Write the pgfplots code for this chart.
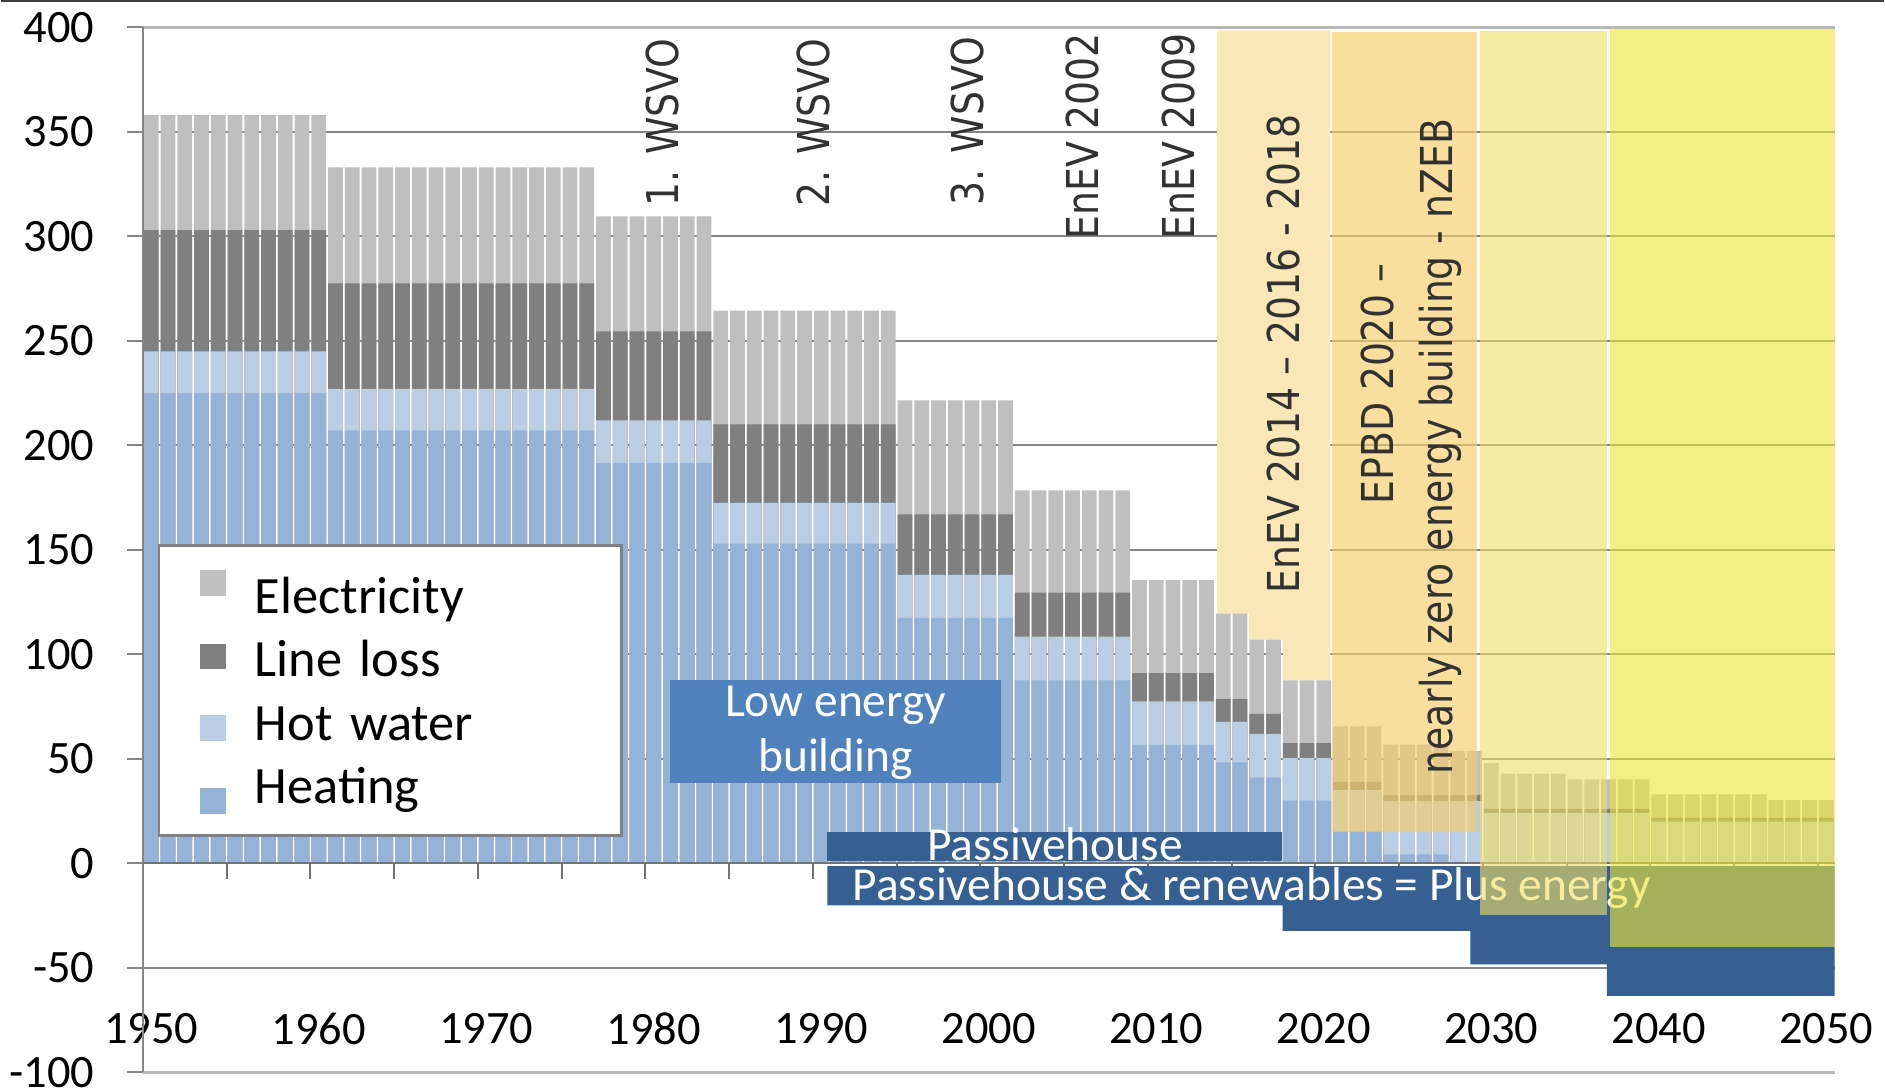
\documentclass[border=0pt]{standalone}
\usepackage{pgfplots}
\pgfplotsset{compat=1.18}
\usepackage{pgfplotstable}
\usepackage{fontspec}
\setmainfont{Carlito}
\newfontfamily\rotfont[FakeStretch=0.86]{DejaVu Sans}
\definecolor{elc}{RGB}{191,191,191}
\definecolor{llc}{RGB}{128,128,128}
\definecolor{hwc}{RGB}{185,205,229}
\definecolor{htc}{RGB}{149,179,215}
\definecolor{zA}{RGB}{249,231,183}
\definecolor{zB}{RGB}{244,206,108}
\definecolor{zC}{RGB}{242,222,100}
\definecolor{zD}{RGB}{237,227,57}
\definecolor{dkb}{RGB}{54,96,146}
\definecolor{lowb}{RGB}{79,129,189}
\definecolor{gridc}{RGB}{134,134,134}
\definecolor{rottxt}{RGB}{50,50,50}

% cumulative tops: tot = electricity top, ll = line loss top, hw = hot water top, heat = heating top
\pgfplotstableread{
year tot ll hw heat
1950 358 303 245 225
1951 358 303 245 225
1952 358 303 245 225
1953 358 303 245 225
1954 358 303 245 225
1955 358 303 245 225
1956 358 303 245 225
1957 358 303 245 225
1958 358 303 245 225
1959 358 303 245 225
1960 358 303 245 225
1961 333 277.5 227 207
1962 333 277.5 227 207
1963 333 277.5 227 207
1964 333 277.5 227 207
1965 333 277.5 227 207
1966 333 277.5 227 207
1967 333 277.5 227 207
1968 333 277.5 227 207
1969 333 277.5 227 207
1970 333 277.5 227 207
1971 333 277.5 227 207
1972 333 277.5 227 207
1973 333 277.5 227 207
1974 333 277.5 227 207
1975 333 277.5 227 207
1976 333 277.5 227 207
1977 309.5 254.5 212 191.5
1978 309.5 254.5 212 191.5
1979 309.5 254.5 212 191.5
1980 309.5 254.5 212 191.5
1981 309.5 254.5 212 191.5
1982 309.5 254.5 212 191.5
1983 309.5 254.5 212 191.5
1984 264.5 210 172.5 153
1985 264.5 210 172.5 153
1986 264.5 210 172.5 153
1987 264.5 210 172.5 153
1988 264.5 210 172.5 153
1989 264.5 210 172.5 153
1990 264.5 210 172.5 153
1991 264.5 210 172.5 153
1992 264.5 210 172.5 153
1993 264.5 210 172.5 153
1994 264.5 210 172.5 153
1995 221.5 167 138 117.5
1996 221.5 167 138 117.5
1997 221.5 167 138 117.5
1998 221.5 167 138 117.5
1999 221.5 167 138 117.5
2000 221.5 167 138 117.5
2001 221.5 167 138 117.5
2002 178.5 129.5 108.5 87.5
2003 178.5 129.5 108.5 87.5
2004 178.5 129.5 108.5 87.5
2005 178.5 129.5 108.5 87.5
2006 178.5 129.5 108.5 87.5
2007 178.5 129.5 108.5 87.5
2008 178.5 129.5 108.5 87.5
2009 135.5 91 77.5 56.7
2010 135.5 91 77.5 56.7
2011 135.5 91 77.5 56.7
2012 135.5 91 77.5 56.7
2013 135.5 91 77.5 56.7
2014 119.5 78.7 67.7 48.3
2015 119.5 78.7 67.7 48.3
2016 107 71.5 62 41
2017 107 71.5 62 41
2018 87.5 57.5 50.3 30
2019 87.5 57.5 50.3 30
2020 87.5 57.5 50.3 30
2021 65.5 39 35 15.4
2022 65.5 39 35 15.4
2023 65.5 39 35 15.4
2024 56.8 32.8 29.8 4.3
2025 56.8 32.8 29.8 4.3
2026 56.8 32.8 29.8 4.3
2027 56.8 32.8 29.8 4.3
2028 53.7 32.8 29.8 0.5
2029 53.7 32.8 29.8 0.5
2030 48 26 24 0
2031 42.9 26 24 0
2032 42.9 26 24 0
2033 42.9 26 24 0
2034 42.9 26 24 0
2035 40.2 26 24 0
2036 40.2 26 24 0
2037 40.2 26 24 0
2038 40.2 26 24 0
2039 40.2 26 24 0
2040 33 21.8 20 0
2041 33 21.8 20 0
2042 33 21.8 20 0
2043 33 21.8 20 0
2044 33 21.8 20 0
2045 33 21.8 20 0
2046 33 21.8 20 0
2047 30.3 21.8 20 0
2048 30.3 21.8 20 0
2049 30.3 21.8 20 0
2050 30.3 21.8 20 0
}\bardata

% tick marks of the horizontal axis (drawn downwards from the zero line)
\pgfplotstableread{
x y
1954.5 -7.6
1959.5 -7.6
1964.5 -7.6
1969.5 -7.6
1974.5 -7.6
1979.5 -7.6
1984.5 -7.6
1989.5 -7.6
1994.5 -7.6
1999.5 -7.6
2004.5 -7.6
2009.5 -7.6
2014.5 -7.6
2019.5 -7.6
2024.5 -7.6
2029.5 -7.6
2034.5 -7.6
2039.5 -7.6
2044.5 -7.6
2049.5 -7.6
}\xtickdata

\begin{document}
\begin{tikzpicture}
\begin{axis}[
  name=ax, at={(0,0)}, anchor=south west,
  width=338.8pt, height=209.3pt, scale only axis,
  xmin=1949.5, xmax=2050.5, ymin=-100, ymax=400,
  clip=false,
  axis line style={draw=none},
  tick style={draw=none},
  ytick={-100,-50,0,50,100,150,200,250,300,350,400},
  yticklabels={-100,-50,0,50,100,150,200,250,300,350,400},
  xtick={1950,1960,1970,1980,1990,2000,2010,2020,2030,2040,2050},
  xticklabels={1950,1960,1970,1980,1990,2000,2010,2020,2030,2040,2050},
  ymajorgrids, grid style={gridc, line width=0.35pt},
  tick label style={font=\fontsize{9.3}{10}\selectfont, text=black},
  yticklabel style={anchor=east, inner sep=0pt, xshift=-9.5pt},
  xticklabel style={anchor=center, inner sep=0pt, yshift=8.74pt},
  legend style={at={(axis cs:1950.38,152.6)}, anchor=north west,
    draw=gray, line width=0.5pt, fill=white,
    inner xsep=8.3pt, inner ysep=3.65pt, row sep=0pt, column sep=5.7pt,
    font=\fontsize{10.5}{12}\selectfont,
    nodes={inner sep=0pt, text width=65.1pt, minimum height=12.7pt,
      text height=9.4pt, text depth=2.2pt, align=left}},
]
% outer light lines
\draw[black!28, line width=0.7pt] (axis cs:1949.5,400) -- (axis cs:2050.5,400);
\draw[black!28, line width=0.7pt] (axis cs:1949.5,-100) -- (axis cs:2050.5,-100);

% zone A (EnEV 2014) above the bars
\addplot[forget plot, fill=zA, draw=none] coordinates {
  (2013.64,398.4) (2020.4,398.4) (2020.4,87.5) (2017.56,87.5)
  (2017.56,107) (2015.53,107) (2015.53,119.5) (2013.64,119.5)} -- cycle;

% bars (drawn back to front as cumulative tops)
\addplot[ybar, bar width=0.88, bar shift=0pt, fill=elc, draw=none,
  legend image code/.code={\fill[elc] (0pt,0pt) rectangle (5.2pt,5.2pt);}]
  table[x=year, y=tot] {\bardata};
\addlegendentry{Electricity}
\addplot[ybar, bar width=0.88, bar shift=0pt, fill=llc, draw=none,
  legend image code/.code={\fill[llc] (0pt,-2.1pt) rectangle (5.2pt,3.1pt);}]
  table[x=year, y=ll] {\bardata};
\addlegendentry{Line loss}
\addplot[ybar, bar width=0.88, bar shift=0pt, fill=hwc, draw=none,
  legend image code/.code={\fill[hwc] (0pt,-3.8pt) rectangle (5.2pt,1.4pt);}]
  table[x=year, y=hw] {\bardata};
\addlegendentry{Hot water}
\addplot[ybar, bar width=0.88, bar shift=0pt, fill=htc, draw=none,
  legend image code/.code={\fill[htc] (0pt,-5.6pt) rectangle (5.2pt,-0.4pt);}]
  table[x=year, y=heat] {\bardata};
\addlegendentry{Heating}

% axes lines and ticks
\draw[gridc, line width=0.35pt] (axis cs:1949.5,-100) -- (axis cs:1949.5,400);
\draw[gridc, line width=0.35pt] (axis cs:1949.5,-100) -- ++(-3.1pt,0pt);
\draw[gridc, line width=0.35pt] (axis cs:1949.5,-50) -- ++(-3.1pt,0pt);
\draw[gridc, line width=0.35pt] (axis cs:1949.5,0) -- ++(-3.1pt,0pt);
\draw[gridc, line width=0.35pt] (axis cs:1949.5,50) -- ++(-3.1pt,0pt);
\draw[gridc, line width=0.35pt] (axis cs:1949.5,100) -- ++(-3.1pt,0pt);
\draw[gridc, line width=0.35pt] (axis cs:1949.5,150) -- ++(-3.1pt,0pt);
\draw[gridc, line width=0.35pt] (axis cs:1949.5,200) -- ++(-3.1pt,0pt);
\draw[gridc, line width=0.35pt] (axis cs:1949.5,250) -- ++(-3.1pt,0pt);
\draw[gridc, line width=0.35pt] (axis cs:1949.5,300) -- ++(-3.1pt,0pt);
\draw[gridc, line width=0.35pt] (axis cs:1949.5,350) -- ++(-3.1pt,0pt);
\draw[gridc, line width=0.35pt] (axis cs:1949.5,400) -- ++(-3.1pt,0pt);
\draw[black!55, line width=0.4pt] (axis cs:1949.5,0) -- (axis cs:2050.5,0);
\addplot[forget plot, ycomb, mark=none, black!55, line width=0.4pt] table[x=x, y=y] {\xtickdata};

% low energy building box
\addplot[forget plot, fill=lowb, draw=none] coordinates {
  (1980.97,38.5) (2000.75,38.5) (2000.75,87.9) (1980.97,87.9)} -- cycle;
\node[text=white, align=center, inner sep=0pt, font=\fontsize{9.5}{11}\selectfont]
  at (axis cs:1990.86,62.6) {Low energy\\building};

% passivehouse box
\addplot[forget plot, fill=dkb, draw=none] coordinates {
  (1990.36,1.2) (2017.53,1.2) (2017.53,15) (1990.36,15)} -- cycle;
\node[text=white, anchor=base, inner sep=0pt, font=\fontsize{9.5}{11}\selectfont]
  at (axis cs:2003.95,1.4) {Passivehouse};

% plus energy (negative) area
\addplot[forget plot, fill=dkb, draw=none] coordinates {
  (1990.36,-1.3) (2050.5,-1.3) (2050.5,-63.4) (2036.9,-63.4) (2036.9,-48.3)
  (2028.75,-48.3) (2028.75,-32.3) (2017.55,-32.3) (2017.55,-20.1) (1990.36,-20.1)} -- cycle;
\node[text=white, anchor=base, inner sep=0pt, font=\fontsize{9.5}{11}\selectfont]
  at (axis cs:2015.7,-18) {Passivehouse \& renewables = Plus energy};

% translucent zones
\addplot[forget plot, fill=zB, fill opacity=0.66, draw=none] coordinates {
  (2020.47,15) (2029.14,15) (2029.14,397.9) (2020.47,397.9)} -- cycle;
\addplot[forget plot, fill=zC, fill opacity=0.6, draw=none] coordinates {
  (2029.32,-24.5) (2036.94,-24.5) (2036.94,398.4) (2029.32,398.4)} -- cycle;
\addplot[forget plot, fill=zD, fill opacity=0.61, draw=none] coordinates {
  (2037.08,-40) (2050.5,-40) (2050.5,399.2) (2037.08,399.2)} -- cycle;

% rotated labels
\tikzset{rl/.style={rotate=90, anchor=base west, inner sep=0pt, text=rottxt,
  font=\rotfont\fontsize{8.8}{10}\selectfont}}
\node[rl] at (axis cs:1981.5,313.7) {1. WSVO};
\node[rl] at (axis cs:1990.5,313.7) {2. WSVO};
\node[rl] at (axis cs:1999.67,314.5) {3. WSVO};
\node[rl] at (axis cs:2006.57,298.2) {EnEV 2002};
\node[rl] at (axis cs:2012.3,298.2) {EnEV 2009};
\node[rl] at (axis cs:2018.53,128.7) {EnEV 2014 – 2016 - 2018};
\node[rl] at (axis cs:2024.19,171.3) {EPBD 2020 –};
\node[rl] at (axis cs:2027.7,41.9) {nearly zero energy building - nZEB};
\end{axis}
\pgfresetboundingbox
\path ([xshift=-28.38pt,yshift=-3.2pt]ax.south west) rectangle ([xshift=9.86pt,yshift=5.48pt]ax.north east);
\draw[black!75, line width=0.5pt] ([xshift=-28.38pt,yshift=5.23pt]ax.north west) -- ([xshift=9.86pt,yshift=5.23pt]ax.north east);
\end{tikzpicture}
\end{document}
